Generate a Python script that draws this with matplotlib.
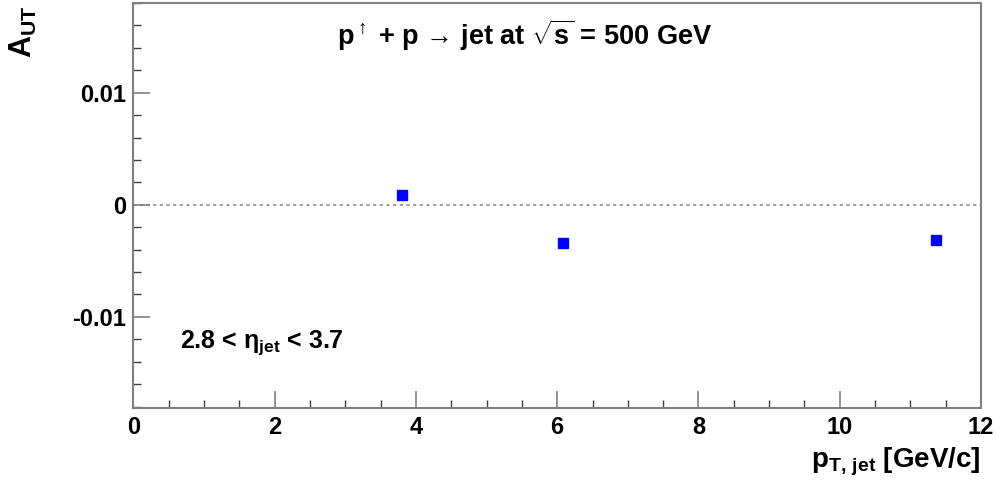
import matplotlib
matplotlib.use("Agg")
import matplotlib.pyplot as plt
from matplotlib.ticker import MultipleLocator

plt.rcParams['font.family'] = ['Liberation Sans', 'DejaVu Sans']
plt.rcParams['font.weight'] = 'bold'
plt.rcParams['mathtext.fontset'] = 'custom'
plt.rcParams['mathtext.rm'] = 'Liberation Sans:bold'
plt.rcParams['mathtext.it'] = 'Liberation Sans:bold'
plt.rcParams['mathtext.bf'] = 'Liberation Sans:bold'

# jet pT bins and transverse single-spin asymmetry
pt = [3.81, 6.08, 11.36]
a_ut = [0.00085, -0.0034, -0.0031]

xticks = [0, 2, 4, 6, 8, 10, 12]
yticks = [-0.01, 0, 0.01]
ylabels = ["-0.01", "0", "0.01"]

fig = plt.figure(figsize=(9.98, 4.83), dpi=100)
ax = fig.add_axes([0.1336, 0.156, 0.983 - 0.1336, 0.9938 - 0.156])

ax.plot(pt, a_ut, linestyle="None", marker="s", markersize=6.5, color="blue")
ax.axhline(0, color="#909090", linestyle=(0, (2, 2)), linewidth=1.2, zorder=0)

ax.set_xlim(0, 12)
ax.set_ylim(-0.0181, 0.0180)

for s in ax.spines.values():
    s.set_color("#808080")
    s.set_linewidth(1.5)

ax.set_xticks(xticks)
ax.set_xticklabels([str(v) for v in xticks])
ax.xaxis.set_minor_locator(MultipleLocator(0.5))
ax.set_yticks(yticks)
ax.set_yticklabels(ylabels)
ax.yaxis.set_minor_locator(MultipleLocator(0.002))
ax.tick_params(which="major", direction="in", length=12, width=1.2, color="#808080",
               labelsize=17)
ax.tick_params(axis="x", which="major", pad=6)
ax.tick_params(axis="y", which="major", pad=5)
ax.tick_params(which="minor", direction="in", length=6, width=1.0, color="#404040")

ax.set_xlabel(r"$\mathrm{p}_{\mathrm{T,\,jet}}$ [GeV/c]", fontsize=20, fontweight="bold")
ax.xaxis.set_label_coords(1.0, -0.095)
ax.xaxis.label.set_horizontalalignment("right")
ax.set_ylabel(r"$\mathrm{A}_{\mathrm{UT}}$", fontsize=22, fontweight="bold")
ax.yaxis.set_label_coords(-0.148, 0.995)
ax.yaxis.label.set_verticalalignment("top")
ax.yaxis.label.set_horizontalalignment("right")

ax.text(0.462, 0.92, "p$^{\\uparrow}$ + p \u2192 jet at $\\sqrt{\\mathrm{s}}$ = 500 GeV",
        transform=ax.transAxes, ha="center", va="center", fontsize=19.5, fontweight="bold")
ax.text(0.055, 0.16, r"2.8 < $\eta_{\mathrm{jet}}$ < 3.7",
        transform=ax.transAxes, ha="left", va="center", fontsize=18, fontweight="bold")

fig.savefig("out.png", dpi=100)
